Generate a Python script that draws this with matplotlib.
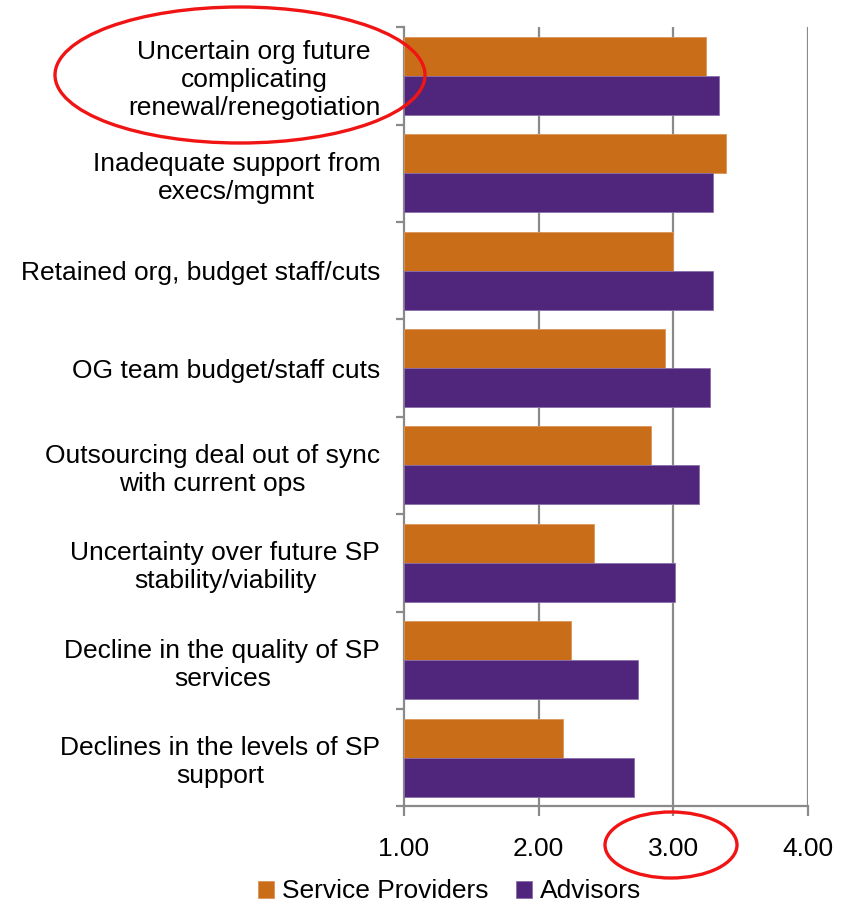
import matplotlib
matplotlib.use("Agg")
import matplotlib.pyplot as plt
from matplotlib.patches import Ellipse
import numpy as np

plt.rcParams["font.family"] = ["Liberation Sans", "DejaVu Sans"]

categories = [
    "Uncertain org future\ncomplicating\nrenewal/renegotiation",
    "Inadequate support from\nexecs/mgmnt",
    "Retained org, budget staff/cuts",
    "OG team budget/staff cuts",
    "Outsourcing deal out of sync\nwith current ops",
    "Uncertainty over future SP\nstability/viability",
    "Decline in the quality of SP\nservices",
    "Declines in the levels of SP\nsupport",
]
service_providers = [3.24, 3.39, 3.00, 2.94, 2.83, 2.41, 2.24, 2.18]
advisors = [3.34, 3.29, 3.29, 3.27, 3.19, 3.01, 2.74, 2.71]
x_ticks = [1.0, 2.0, 3.0, 4.0]

ORANGE = "#C96D18"
PURPLE = "#50267C"
AXIS_GREY = "#8A8A8A"
FS = 19

fig = plt.figure(figsize=(8.5, 9.05), dpi=100)
ax = fig.add_axes([0.475, 0.109, 0.476, 0.861])

y = np.arange(len(categories))
h = 0.4
ax.barh(y - h / 2, np.array(service_providers) - 1.0, left=1.0, height=h,
        color=ORANGE, edgecolor="#D9955A", linewidth=0.6, label="Service Providers", zorder=3)
ax.barh(y + h / 2, np.array(advisors) - 1.0, left=1.0, height=h,
        color=PURPLE, edgecolor="#8A6FAA", linewidth=0.6, label="Advisors", zorder=3)

ax.set_xlim(1.0, 4.0)
ax.set_ylim(len(categories) - 0.5, -0.5)

# vertical grid at the major x positions
for xv in x_ticks[1:]:
    ax.axvline(xv, color=AXIS_GREY, lw=1.6, zorder=1)

for side in ("top", "right"):
    ax.spines[side].set_visible(False)
for side in ("left", "bottom"):
    ax.spines[side].set_color(AXIS_GREY)
    ax.spines[side].set_linewidth(1.6)

ax.set_xticks(x_ticks)
ax.set_xticklabels([f"{v:.2f}" for v in x_ticks], fontsize=FS)
ax.tick_params(axis="x", direction="out", length=7, width=1.6, color=AXIS_GREY, pad=15)

ax.set_yticks(y)
ax.set_yticklabels(categories, fontsize=FS, multialignment="center", linespacing=1.2)
ax.set_yticks(np.arange(-0.5, len(categories)), minor=True)
ax.tick_params(axis="y", which="major", length=0, pad=17)
ax.tick_params(axis="y", which="minor", direction="out", length=6, width=1.6, color=AXIS_GREY)

fig.legend(loc="center", bbox_to_anchor=(0.529, 0.015), ncol=2, frameon=False,
           fontsize=FS, handlelength=0.6, handleheight=0.6, handletextpad=0.3,
           columnspacing=1.05, borderpad=0)

# highlight rings
fig.add_artist(Ellipse((240 / 850, 1 - 75 / 905), 370 / 850, 136 / 905,
                       transform=fig.transFigure, fill=False, ec="#F01414", lw=2.4))
fig.add_artist(Ellipse((671 / 850, 1 - 845 / 905), 132 / 850, 66 / 905,
                       transform=fig.transFigure, fill=False, ec="#F01414", lw=2.4))

fig.savefig("out.png", dpi=100)
